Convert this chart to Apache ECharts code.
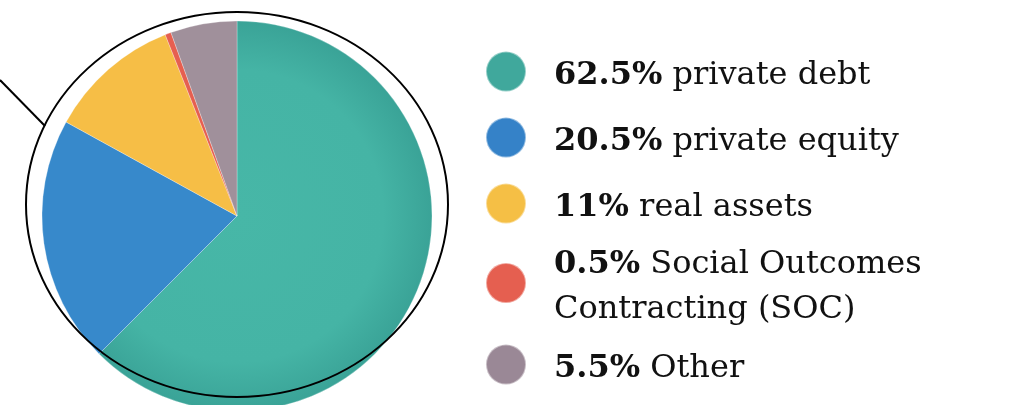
<!DOCTYPE html>
<html><head><meta charset="utf-8">
<script src="https://cdn.jsdelivr.net/npm/echarts@6/dist/echarts.min.js"></script>
<style>html,body{margin:0;padding:0;background:#fff}#c{width:1010px;height:405px}</style>
</head><body><div id="c"></div>
<script>
const categories = ['private debt', 'private equity', 'real assets', 'Social Outcomes\nContracting (SOC)', 'Other'];
const shares = [62.5, 20.5, 11, 0.5, 5.5];
const shareLabels = ['62.5%', '20.5%', '11%', '0.5%', '5.5%'];
const colors = ['#44b3a4', '#3789cb', '#f6be46', '#e65f50', '#a0909b'];
const legendColors = ['#40a89c', '#3582c8', '#f5bf45', '#e55f50', '#9a8896'];

const legendTops = [40, 106, 172, 229, 333];
const FONT = 'DejaVu Serif';
const chart = echarts.init(document.getElementById('c'));
const teal = {type:'radial', x:237, y:216, r:195, global:true,
  colorStops:[{offset:0,color:'#47b7a7'},{offset:0.75,color:'#45b4a5'},{offset:1,color:'#3aa397'}]};
chart.setOption({
  animation:false,
  color: legendColors,
  legend: categories.map((c, i) => ({
    data:[{name:c, itemStyle:{color:legendColors[i]}}], left:480, top:legendTops[i], orient:'vertical',
    icon:'circle', itemWidth:40, itemHeight:40, itemGap:0,
    selectedMode:false,
    formatter: () => '{b|' + shareLabels[i] + '} ' + c,
    textStyle:{fontFamily:FONT, fontSize:32, color:'#111', lineHeight:45, padding:[8,0,0,23],
      rich:{b:{fontFamily:FONT, fontSize:32, fontWeight:'bold', color:'#111', lineHeight:45}}}
  })),
  graphic:[
    {type:'ellipse', shape:{cx:237, cy:204.5, rx:211, ry:192.5}, style:{fill:'none', stroke:'#000', lineWidth:2}, z:100},
    {type:'line', shape:{x1:0, y1:80, x2:45, y2:126}, style:{stroke:'#000', lineWidth:2}, z:100}
  ],
  series:[{
    type:'pie', center:[237,216], radius:195, startAngle:90, clockwise:true,
    label:{show:false}, labelLine:{show:false}, emphasis:{disabled:true},
    itemStyle:{borderColor:'rgba(255,255,255,0.45)', borderWidth:0.6},
    data: categories.map((c, i) => ({name:c, value:shares[i], itemStyle:{color: i===0 ? teal : colors[i]}}))
  }]
});
</script></body></html>
